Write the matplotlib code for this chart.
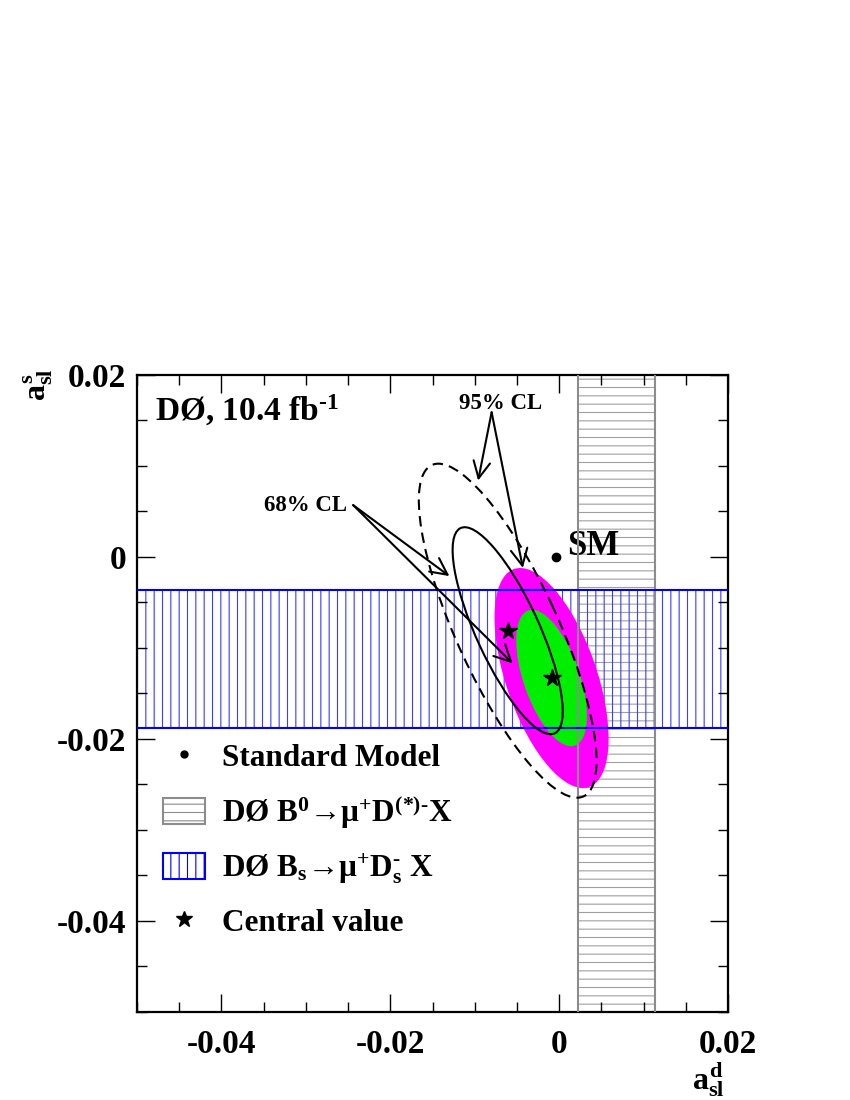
import numpy as np
import matplotlib
matplotlib.use("Agg")
import matplotlib.pyplot as plt
from matplotlib.patches import Ellipse, Patch
from matplotlib.lines import Line2D
from matplotlib import ticker

plt.rcParams['font.family'] = ['Liberation Serif', 'DejaVu Serif']
plt.rcParams['font.weight'] = 'bold'
plt.rcParams['mathtext.fontset'] = 'custom'
plt.rcParams['mathtext.rm'] = 'Liberation Serif:bold'
plt.rcParams['mathtext.it'] = 'Liberation Serif:bold'
plt.rcParams['mathtext.bf'] = 'Liberation Serif:bold'
plt.rcParams['axes.unicode_minus'] = False
plt.rcParams['hatch.linewidth'] = 0.8

# measurements (a_sl^d, a_sl^s)
sm_point = (-0.00041, 0.00002)
b0_band = (0.0022, 0.0114)        # a_sl^d range, DØ B0 -> mu D(*) X
bs_band = (-0.0188, -0.0036)      # a_sl^s range, DØ Bs -> mu Ds X

# combined fit: center, sigma_d, sigma_s, correlation
comb_center = (-0.0009, -0.0133)
comb_sig = (0.00276, 0.00494)
comb_rho = -0.55

# dimuon result
dimu_center = (-0.0061, -0.0081)
dimu_sig = (0.0043, 0.0075)
dimu_rho = -0.78

cl_levels = [2.30, 5.99]   # 68%, 95% CL in 2D

# annotation arrows
lbl95_pos = (-0.0070, 0.0169)
arr95_from = (-0.0080, 0.0159)
arr95_to = [(-0.0096, 0.0084), (-0.0043, -0.0012)]
lbl68_pos = (-0.0301, 0.0057)
arr68_from = (-0.0244, 0.0057)
arr68_to = [(-0.0130, -0.0021), (-0.0055, -0.0117)]


def cl_ellipse(center, sig, rho, level, **kw):
    cov = np.array([[sig[0]**2, rho*sig[0]*sig[1]],
                    [rho*sig[0]*sig[1], sig[1]**2]])
    vals, vecs = np.linalg.eigh(cov)
    ang = np.degrees(np.arctan2(vecs[1, 1], vecs[0, 1]))
    return Ellipse(center, 2*np.sqrt(level*vals[1]), 2*np.sqrt(level*vals[0]),
                   angle=ang, **kw)


fig = plt.figure(figsize=(8.5, 11), dpi=100)
ax = fig.add_axes([0.1612, 0.08, 0.6953, 0.5791])
ax.set_xlim(-0.05, 0.02)
ax.set_ylim(-0.05, 0.02)

gray = '#8c8c8c'
blue = '#0000ff'

# bands
ax.axvspan(b0_band[0], b0_band[1], facecolor='none', edgecolor='#a0a0a0',
           hatch='--', lw=0, zorder=1)
ax.axhspan(bs_band[0], bs_band[1], facecolor='none', edgecolor='#3c3cff',
           hatch='||', lw=0, zorder=1)

# combined ellipses
ax.add_patch(cl_ellipse(comb_center, comb_sig, comb_rho, cl_levels[1],
                        facecolor='#ff00ff', edgecolor='none', zorder=2))
ax.add_patch(cl_ellipse(comb_center, comb_sig, comb_rho, cl_levels[0],
                        facecolor='#00ee00', edgecolor='none', zorder=3))

# band edges
for v in b0_band:
    ax.axvline(v, color=gray, lw=1.5, zorder=4)
for v in bs_band:
    ax.axhline(v, color=blue, lw=1.5, zorder=4)

# dimuon contours
ax.add_patch(cl_ellipse(dimu_center, dimu_sig, dimu_rho, cl_levels[0],
                        facecolor='none', edgecolor='black', lw=1.5, zorder=5))
ax.add_patch(cl_ellipse(dimu_center, dimu_sig, dimu_rho, cl_levels[1],
                        facecolor='none', edgecolor='black', lw=1.5,
                        ls=(0, (5, 3)), zorder=5))

# central values and SM
ax.plot(*comb_center, marker='*', color='black', ms=13, zorder=6)
ax.plot(*dimu_center, marker='*', color='black', ms=13, zorder=6)
ax.plot(*sm_point, marker='o', color='black', ms=6, zorder=6)
ax.text(0.0010, 0.0011, 'SM', fontsize=25, va='center', ha='left')

# annotations
ax.text(*lbl95_pos, '95% CL', fontsize=16.5, ha='center', va='center')
for tip in arr95_to:
    ax.annotate('', xy=tip, xytext=arr95_from,
                arrowprops=dict(arrowstyle='->', lw=1.5, color='black',
                                mutation_scale=30, shrinkA=0, shrinkB=0),
                zorder=7)
ax.text(*lbl68_pos, '68% CL', fontsize=16.5, ha='center', va='center')
for tip in arr68_to:
    ax.annotate('', xy=tip, xytext=arr68_from,
                arrowprops=dict(arrowstyle='->', lw=1.5, color='black',
                                mutation_scale=30, shrinkA=0, shrinkB=0),
                zorder=7)

ax.text(0.030, 0.945, r'DØ, 10.4 fb$^{\text{-}1}$', transform=ax.transAxes,
        fontsize=24, ha='left', va='center')

# ticks
ax.xaxis.set_major_locator(ticker.MultipleLocator(0.02))
ax.yaxis.set_major_locator(ticker.MultipleLocator(0.02))
ax.xaxis.set_minor_locator(ticker.MultipleLocator(0.005))
ax.yaxis.set_minor_locator(ticker.MultipleLocator(0.005))
fmt = ticker.FuncFormatter(lambda v, p: '0' if abs(v) < 1e-9 else f'{v:g}')
ax.xaxis.set_major_formatter(fmt)
ax.yaxis.set_major_formatter(fmt)
ax.tick_params(which='both', direction='in', top=True, right=True, width=1)
ax.tick_params(which='major', length=13, labelsize=24)
ax.tick_params(which='minor', length=7)
ax.tick_params(axis='x', pad=12)
ax.tick_params(axis='y', pad=8)
for s in ax.spines.values():
    s.set_linewidth(1.6)

fig.text(708/850, 1 - 1080/1100, '$a^{d}_{sl}$', fontsize=23,
         ha='center', va='center')
fig.text(38/850, 1 - 385/1100, '$a^{s}_{sl}$', fontsize=23,
         ha='center', va='center', rotation=90)

# legend
handles = [
    Line2D([], [], ls='none', marker='o', color='black', ms=5),
    Patch(facecolor='white', edgecolor=gray, hatch='--', lw=1.5),
    Patch(facecolor='white', edgecolor=blue, hatch='||', lw=1.5),
    Line2D([], [], ls='none', marker='*', color='black', ms=12),
]
labels = ['Standard Model',
          r'DØ B$^{0}$→μ$^{+}$D$^{(*)\text{-}}$X',
          r'DØ B$_{s}$→μ$^{+}$D$_{s}^{\text{-}}$ X',
          'Central value']
ax.legend(handles, labels, loc='upper left',
          bbox_to_anchor=(163/850, 1 - 742/1100), bbox_transform=fig.transFigure,
          frameon=False, fontsize=22.5, handlelength=1.35, handleheight=0.9,
          labelspacing=0.66, handletextpad=0.55, borderpad=0, borderaxespad=0)

fig.savefig('out.png', dpi=100)
